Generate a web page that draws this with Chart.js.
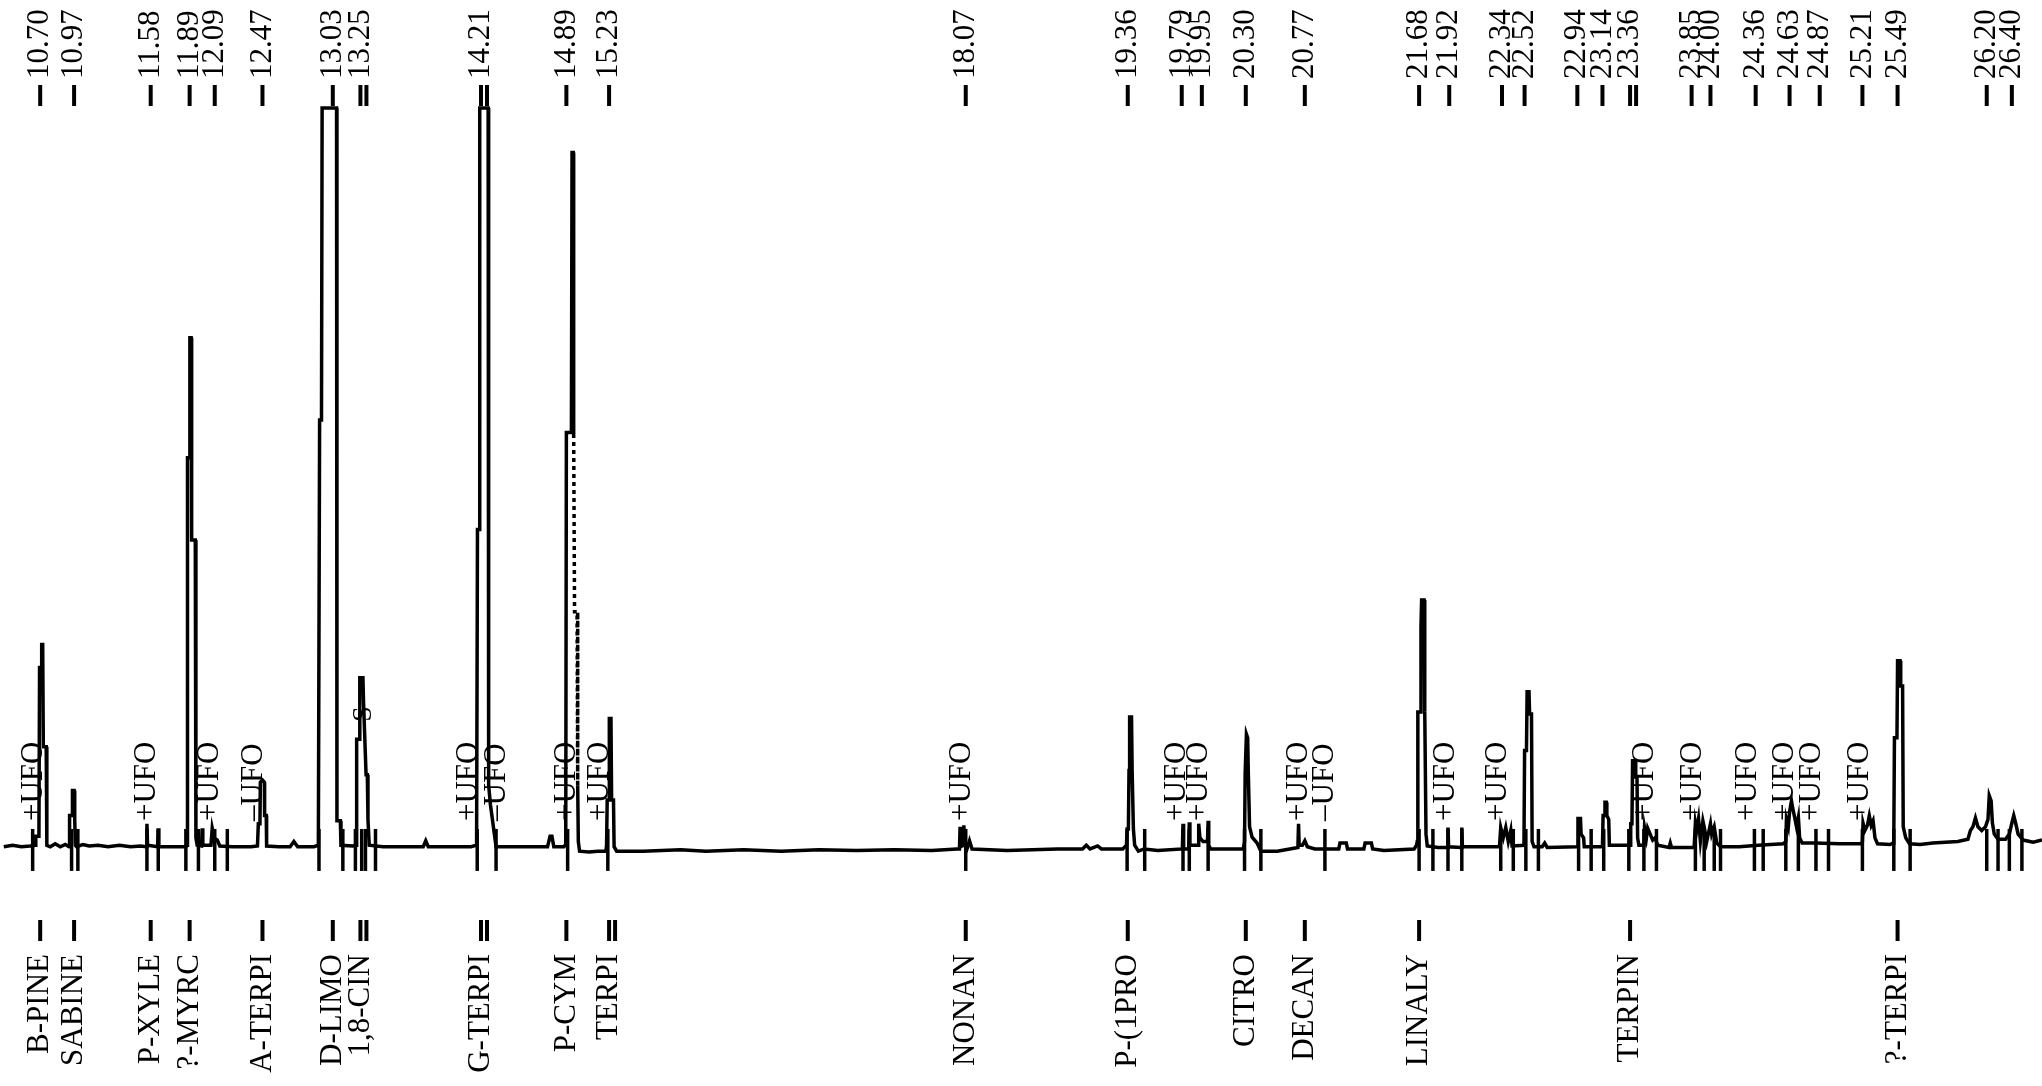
<!DOCTYPE html>
<html>
<head>
<meta charset="utf-8">
<script src="https://cdn.jsdelivr.net/npm/chart.js@4.4.1/dist/chart.umd.min.js"></script>
<style>
  body { margin: 0; background: #fff; }
  #wrap { width: 2042px; height: 1086px; position: relative; }
</style>
</head>
<body>
<div id="wrap"><canvas id="myChart"></canvas></div>
<script>
// chromatogram trace: [retention time (min), signal (% of full scale)]
var trace = [
  [10.41,0.3],[10.48,0.5],[10.55,0.3],[10.62,0.4],[10.66,0.5],
  [10.665,1.7],[10.69,1.7],[10.695,24.5],[10.71,24.5],[10.712,27.6],[10.72,27.6],[10.725,13.8],[10.748,13.8],[10.753,0.5],
  [10.78,0.3],[10.82,0.7],[10.86,0.3],[10.90,0.6],
  [10.93,0.3],[10.934,4.5],[10.955,4.5],[10.957,7.9],[10.97,7.9],[10.975,4],[10.98,0.5],[10.99,0.3],
  [11.04,0.6],[11.09,0.4],[11.16,0.5],[11.24,0.3],[11.33,0.5],[11.42,0.3],[11.50,0.4],
  [11.545,0.3],[11.55,3.4],[11.555,0.5],[11.635,0.3],[11.64,2.8],[11.645,0.3],[11.72,0.3],[11.86,0.3],
  [11.87,0.5],[11.873,52.8],[11.888,52.8],[11.892,69],[11.902,69],[11.906,41.7],[11.935,41.7],[11.94,1.5],[11.95,0.5],
  [11.985,0.4],[11.99,2.8],[11.995,0.5],[12.06,0.5],[12.07,2.8],[12.08,2],[12.09,1.4],[12.11,1.2],[12.13,0.4],
  [12.23,0.3],[12.38,0.3],
  [12.43,0.4],[12.437,3.4],[12.45,3.4],[12.453,9],[12.47,9.3],[12.485,9],[12.487,4.5],[12.50,4.5],[12.503,0.4],
  [12.60,0.3],[12.69,0.3],[12.72,1],[12.75,0.3],[12.88,0.3],
  [12.915,0.5],[12.925,57.9],[12.94,57.9],[12.945,100],[13.06,100],[13.063,3.8],[13.09,3.8],[13.095,0.5],[13.19,0.4],
  [13.215,0.5],[13.22,14.8],[13.24,14.8],[13.245,23.1],[13.27,23.1],[13.275,19.7],[13.295,10],[13.305,10],[13.31,4],[13.32,0.5],
  [13.43,0.3],[13.75,0.3],[13.77,1.1],[13.79,0.3],[14.13,0.3],
  [14.175,0.5],[14.182,43.1],[14.195,43.1],[14.20,100],[14.267,100],[14.271,8.6],[14.285,6],[14.33,0.3],[14.38,0.3],
  [14.74,0.3],[14.76,1.7],[14.775,1.7],[14.79,0.3],[14.87,0.3],
  [14.88,0.5],[14.885,1.5],[14.89,56.2],[14.93,56.2],[14.935,94],[14.945,94],[14.948,56],
  [14.955,32],[14.975,32],[14.98,8.6],[14.985,1],[14.995,-0.3],[15.07,-0.4],[15.14,-0.3],[15.205,-0.3],
  [15.21,0.5],[15.215,6.6],[15.23,6.6],[15.232,17.6],[15.245,17.6],[15.25,6.6],[15.265,6.6],[15.27,0.3],[15.29,-0.3],
  [15.50,-0.3],[15.80,-0.1],[16.00,-0.3],[16.30,-0.1],[16.60,-0.3],[16.90,-0.1],[17.20,-0.2],[17.50,-0.1],[17.80,-0.2],[18.00,0],
  [18.02,0],[18.025,3],[18.03,0.3],[18.05,0.5],[18.055,3.2],[18.06,0.5],[18.08,0],[18.10,1.1],[18.12,0],
  [18.40,-0.2],[18.80,0],[19.00,0],[19.03,0.5],[19.06,0],[19.12,0.4],[19.15,0],[19.32,0],
  [19.35,0.5],[19.355,2.7],[19.365,2.7],[19.37,10.6],[19.375,17.8],[19.39,17.8],[19.395,10.6],[19.405,2.7],[19.415,0.5],[19.445,-0.3],
  [19.49,0],[19.60,-0.2],[19.795,0],
  [19.80,3.4],[19.805,0],[19.845,0],[19.85,3.6],[19.855,0.5],[19.92,0.5],[19.925,3.4],[19.935,1.5],[19.96,1],[19.995,1],[20.00,3.8],[20.005,0.5],
  [20.02,0],[20.07,0],[20.28,0],
  [20.29,1],[20.295,10.3],[20.305,15.5],[20.315,15],[20.32,10.3],[20.33,3],[20.35,1.6],[20.39,0.8],[20.42,-0.3],[20.55,-0.3],[20.65,0],
  [20.715,0.2],[20.72,3.4],[20.725,0.5],[20.75,0.5],[20.77,1.1],[20.79,0.3],[20.85,0],
  [21.04,0],[21.05,0.8],[21.10,0.8],[21.11,0],[21.24,0],[21.25,0.8],[21.30,0.8],[21.31,0],[21.40,-0.2],[21.64,0],
  [21.66,0.5],[21.665,1],[21.67,18.5],[21.69,18.5],[21.695,30],[21.70,33.6],[21.72,33.6],[21.725,18.5],[21.735,2],[21.745,0.4],[21.83,0.2],
  [21.905,0.2],[21.91,2.9],[21.915,0.3],[22.015,0.2],[22.02,2.9],[22.025,0.3],
  [22.32,0.3],[22.33,2.9],[22.35,1.5],[22.37,2.9],[22.39,1],[22.41,2.5],[22.42,0.4],
  [22.515,0.5],[22.52,13.3],[22.535,13.3],[22.54,21.2],[22.555,21.2],[22.56,18.2],[22.575,18.2],[22.58,1],[22.595,0.3],
  [22.66,0.3],[22.68,0.8],[22.70,0.2],
  [22.94,0.3],[22.945,4.1],[22.965,4.1],[22.97,2],[22.99,1.5],[22.995,0.3],
  [23.14,0.3],[23.145,4.5],[23.155,4.5],[23.16,6.3],[23.17,6.3],[23.175,4.5],[23.19,4],[23.195,0.5],
  [23.36,0.5],[23.365,3.4],[23.375,3.4],[23.38,11.9],[23.40,11.9],[23.405,9.7],[23.415,9.7],[23.42,1.5],[23.43,0.5],
  [23.47,0.5],[23.475,2.9],[23.49,1.5],[23.50,2.8],[23.52,2],[23.54,1.2],[23.56,1.5],[23.58,0.5],[23.67,0.2],[23.68,0.8],[23.69,0.2],
  [23.87,0.2],[23.88,3.5],[23.89,2.5],[23.905,4.1],[23.92,1],[23.94,3.8],[23.95,3],[23.97,1],[24.00,3.4],[24.01,2],[24.03,3],[24.05,0.8],[24.08,0.3],
  [24.23,0.3],[24.38,0.5],[24.48,0.6],[24.58,0.7],
  [24.60,1],[24.605,4],[24.62,3],[24.63,5],[24.645,6.5],[24.655,5.5],[24.67,4.3],[24.685,3],[24.70,4.3],[24.71,1.5],[24.73,0.8],
  [24.83,0.8],[25.03,0.7],[25.20,0.7],
  [25.21,1],[25.215,3.5],[25.23,2.5],[25.25,3.2],[25.265,4.5],[25.28,3.2],[25.295,3.8],[25.31,1.5],[25.33,0.7],[25.43,0.6],
  [25.455,0.8],[25.46,1.6],[25.465,15],[25.485,15],[25.49,25.4],[25.51,25.4],[25.515,22],[25.53,22],[25.535,3],[25.555,1.5],[25.585,0.7],
  [25.67,0.6],[25.77,0.8],[25.87,0.9],[25.97,1],
  [26.05,1.3],[26.07,2.5],[26.09,3],[26.11,4.2],[26.13,3],[26.16,2.5],[26.19,3],[26.21,4],[26.22,7.2],[26.235,6.5],[26.245,3.5],
  [26.26,2],[26.29,1.3],[26.35,1.3],[26.38,2],[26.40,3.5],[26.415,4.5],[26.43,3.5],[26.45,2],[26.49,1.2],[26.57,0.9],[26.64,1.2]
];
// part of the P-CYM tail that the recorder drew dotted
var dottedFrom = 14.948, dottedTo = 14.98;

// retention times printed along the top
var timeLabels = [10.70,10.97,11.58,11.89,12.09,12.47,13.03,13.25,14.21,14.89,15.23,18.07,19.36,19.79,19.95,
  20.30,20.77,21.68,21.92,22.34,22.52,22.94,23.14,23.36,23.85,24.00,24.36,24.63,24.87,25.21,25.49,26.20,26.40];
var timeDoubles = [13.25,14.21,23.36];

// identified compounds along the bottom
var compoundNames = ['B-PINE','SABINE','P-XYLE','?-MYRC','A-TERPI','D-LIMO','1,8-CIN','G-TERPI','P-CYM','TERPI',
  'NONAN','P-(1PRO','CITRO','DECAN','LINALY','TERPIN','?-TERPI'];
var compoundTimes = [10.70,10.97,11.58,11.89,12.47,13.03,13.25,14.21,14.89,15.23,18.07,19.36,20.30,20.77,21.68,23.36,25.49];
var compoundDoubles = [13.25,14.21,15.23];

// integration start/stop marks on the baseline
var markerTimes = [10.64,10.95,11.00,11.55,11.64,11.86,11.96,12.09,12.19,12.92,13.11,13.21,13.26,13.29,13.37,
  14.18,14.33,14.90,15.22,18.07,19.355,19.495,19.80,19.85,20.00,20.29,20.42,20.93,
  21.68,21.79,21.91,22.02,22.33,22.43,22.53,22.63,22.95,23.05,23.15,23.35,23.47,23.57,
  23.88,23.95,24.03,24.08,24.35,24.42,24.60,24.70,24.84,24.94,25.21,25.46,25.59,26.20,26.29,26.38,26.48];

// unidentified-peak flags
var ufoTimes = [10.65,11.55,12.05,12.40,14.11,14.34,14.89,15.16,18.04,19.75,19.93,20.72,20.93,
  21.89,22.31,23.48,23.86,24.30,24.59,24.81,25.19];
var ufoSigns = ['+','+','+','–','+','–','+','+','+','+','+','+','–','+','+','+','+','+','+','+','+'];
var flagTimes = [13.275];
var flagTexts = ['S'];

var serif = '"Liberation Serif", "DejaVu Serif", serif';

var annotate = {
  id: 'annotate',
  afterDatasetsDraw: function(chart) {
    var ctx = chart.ctx, xs = chart.scales.x, ys = chart.scales.y;
    var base = ys.getPixelForValue(0);
    ctx.save();
    ctx.strokeStyle = '#000';
    ctx.fillStyle = '#000';
    function vline(px, y0, y1) {
      ctx.beginPath(); ctx.moveTo(px, y0); ctx.lineTo(px, y1); ctx.stroke();
    }
    function vtext(str, px, py, align) {
      ctx.save();
      ctx.translate(px, py);
      ctx.rotate(-Math.PI / 2);
      ctx.textAlign = align;
      ctx.textBaseline = 'middle';
      ctx.fillText(str, 0, 0);
      ctx.restore();
    }
    ctx.font = '31px ' + serif;
    ctx.lineWidth = 4;
    timeLabels.forEach(function(t) {
      var px = xs.getPixelForValue(t);
      vline(px, 85, 106);
      if (timeDoubles.indexOf(t) >= 0) vline(px + 6, 85, 106);
      vtext(t.toFixed(2), px, 79, 'left');
    });
    compoundTimes.forEach(function(t, i) {
      var px = xs.getPixelForValue(t);
      vline(px, 920, 941);
      if (compoundDoubles.indexOf(t) >= 0) vline(px + 6, 920, 941);
      vtext(compoundNames[i], px, 954, 'right');
    });
    ctx.lineWidth = 3.5;
    markerTimes.forEach(function(t) {
      vline(xs.getPixelForValue(t), base - 20, base + 22);
    });
    ufoTimes.forEach(function(t, i) {
      vtext(ufoSigns[i] + 'UFO', xs.getPixelForValue(t), 821, 'left');
    });
    ctx.font = '28px ' + serif;
    flagTimes.forEach(function(t, i) {
      vtext(flagTexts[i], xs.getPixelForValue(t), 714, 'center');
    });
    ctx.restore();
  }
};

var myChart = new Chart(document.getElementById('myChart'), {
  type: 'line',
  data: {
    datasets: [{
      label: 'Signal',
      data: trace.map(function(p) { return { x: p[0], y: p[1] }; }),
      borderColor: '#000',
      borderWidth: 3.5,
      pointRadius: 0,
      tension: 0,
      fill: false,
      clip: false,
      segment: {
        borderDash: function(c) {
          return (c.p0.parsed.x >= dottedFrom && c.p1.parsed.x <= dottedTo) ? [4, 4] : undefined;
        }
      }
    }]
  },
  options: {
    responsive: true,
    maintainAspectRatio: false,
    animation: false,
    layout: { padding: { top: 108, bottom: 200, left: 0, right: 0 } },
    scales: {
      x: { type: 'linear', min: 10.38, max: 26.64, display: false },
      y: { min: -5, max: 100, display: false }
    },
    plugins: { legend: { display: false }, tooltip: { enabled: false } }
  },
  plugins: [annotate]
});
</script>
</body>
</html>
